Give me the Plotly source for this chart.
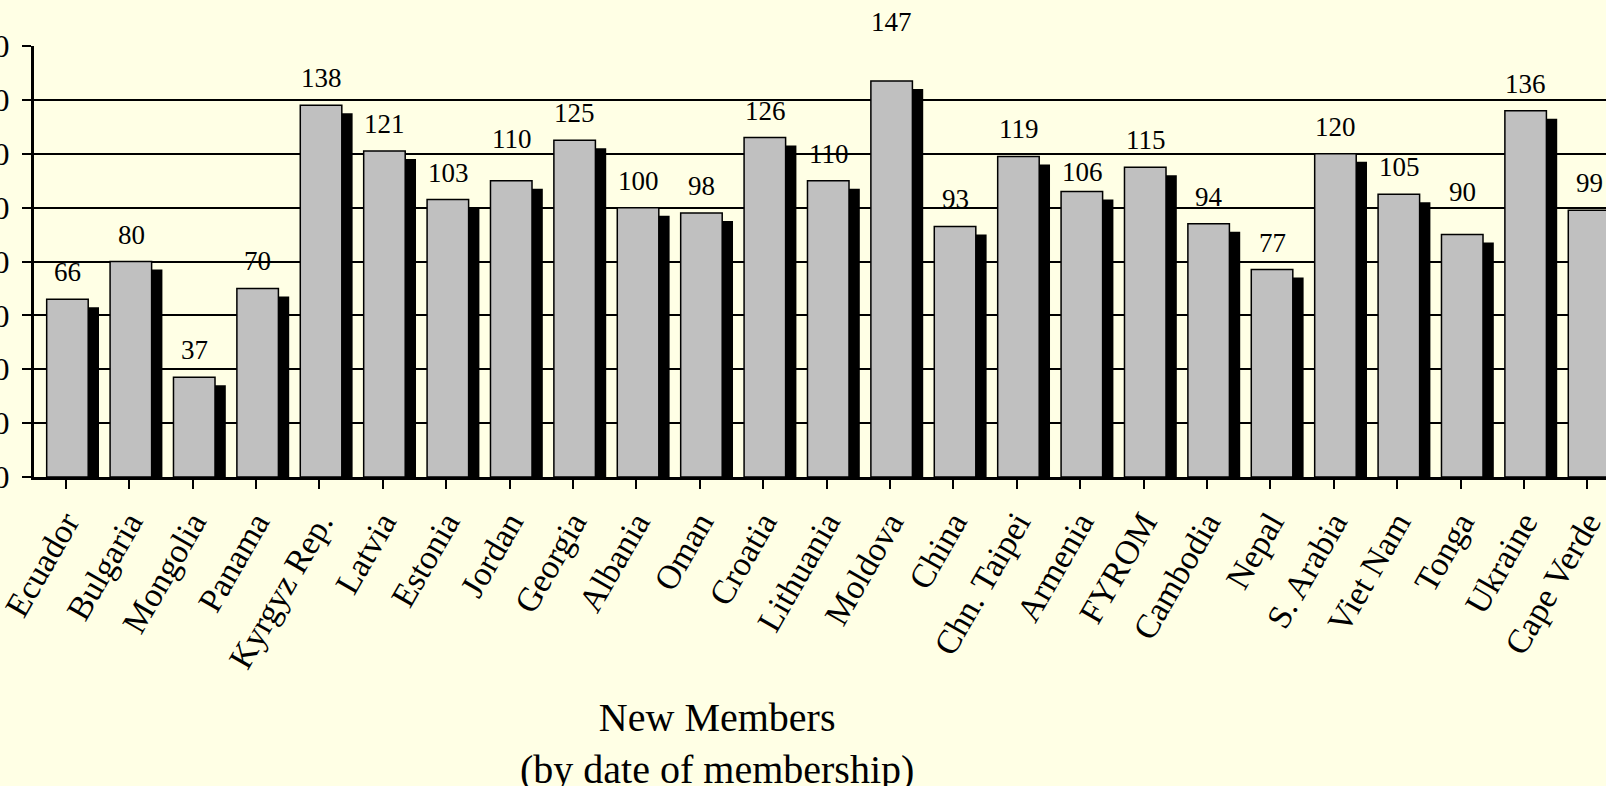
import plotly.graph_objects as go

countries = ["Ecuador", "Bulgaria", "Mongolia", "Panama", "Kyrgyz Rep.", "Latvia",
             "Estonia", "Jordan", "Georgia", "Albania", "Oman", "Croatia",
             "Lithuania", "Moldova", "China", "Chn. Taipei", "Armenia", "FYROM",
             "Cambodia", "Nepal", "S. Arabia", "Viet Nam", "Tonga", "Ukraine",
             "Cape Verde"]
values = [66, 80, 37, 70, 138, 121, 103, 110, 125, 100, 98, 126, 110, 147, 93,
          119, 106, 115, 94, 77, 120, 105, 90, 136, 99]
y_ticks = [0, 20, 40, 60, 80, 100, 120, 140, 160]

BG = "#FFFFE5"
FONT = "Liberation Serif, Times New Roman, serif"

# layout constants (pixels)
L, T, B = 34, 46, 309
W, H = 1606, 786
cat_px = 63.4
px_per_unit = (H - T - B) / 160.0
x_end = -0.5 + (W - L) / cat_px

bar_w = 0.655
bar_off = -0.30
shadow_dx = 10.8 / cat_px
shadow_drop = 8 / px_per_unit

x_idx = list(range(len(countries)))

fig = go.Figure()
# shadow bars
fig.add_trace(go.Bar(
    x=x_idx, y=[v - shadow_drop for v in values],
    width=bar_w, offset=bar_off + shadow_dx,
    marker=dict(color="black", line=dict(width=0)),
    hoverinfo="skip", showlegend=False))
# main bars
fig.add_trace(go.Bar(
    x=x_idx, y=values,
    width=bar_w, offset=bar_off,
    marker=dict(color="#C0C0C0", line=dict(color="black", width=1.5)),
    showlegend=False))

# label placement (pixels above bar top) - a few labels sit off their usual spot
label_shift = {"Moldova": 59, "Jordan": 42, "Tonga": 43, "Armenia": 19}
annotations = []
for i, (c, v) in enumerate(zip(countries, values)):
    annotations.append(dict(
        x=i, y=v, xref="x", yref="y", text=str(v), showarrow=False,
        xshift=2, yshift=label_shift.get(c, 27), yanchor="middle",
        font=dict(family=FONT, size=27, color="black")))

annotations.append(dict(
    x=(717 - L) / cat_px - 0.5, y=-0.50, xref="x", yref="paper",
    text="New Members<br>(by date of membership)", showarrow=False,
    yanchor="top", xanchor="center",
    font=dict(family=FONT, size=40, color="black")))

fig.update_layout(
    width=W, height=H,
    margin=dict(l=L, r=0, t=T, b=B, autoexpand=False),
    paper_bgcolor=BG, plot_bgcolor=BG,
    barmode="overlay",
    annotations=annotations,
    xaxis=dict(
        range=[-0.5, x_end], tickmode="array", tickvals=x_idx, ticktext=countries,
        tickangle=-60, ticks="outside", ticklen=9, tickwidth=2, tickcolor="black",
        tickson="boundaries", showline=True, linecolor="black", linewidth=3,
        showgrid=False, automargin=False, fixedrange=True,
        ticklabelstandoff=0, ticklabeloverflow="allow",
        tickfont=dict(family=FONT, size=34, color="black")),
    yaxis=dict(
        range=[0, 160], tickmode="array", tickvals=y_ticks,
        ticks="outside", ticklen=9, tickwidth=2, tickcolor="black",
        showline=True, linecolor="black", linewidth=3,
        showgrid=True, gridcolor="black", gridwidth=2, zeroline=False,
        automargin=False, ticklabelstandoff=6, ticklabeloverflow="allow",
        tickfont=dict(family=FONT, size=32, color="black")),
)

fig.write_html(
    "out.html",
    config={"displayModeBar": False},
    post_script="document.body.style.margin='0';document.body.style.background='#FFFFE5';",
)
